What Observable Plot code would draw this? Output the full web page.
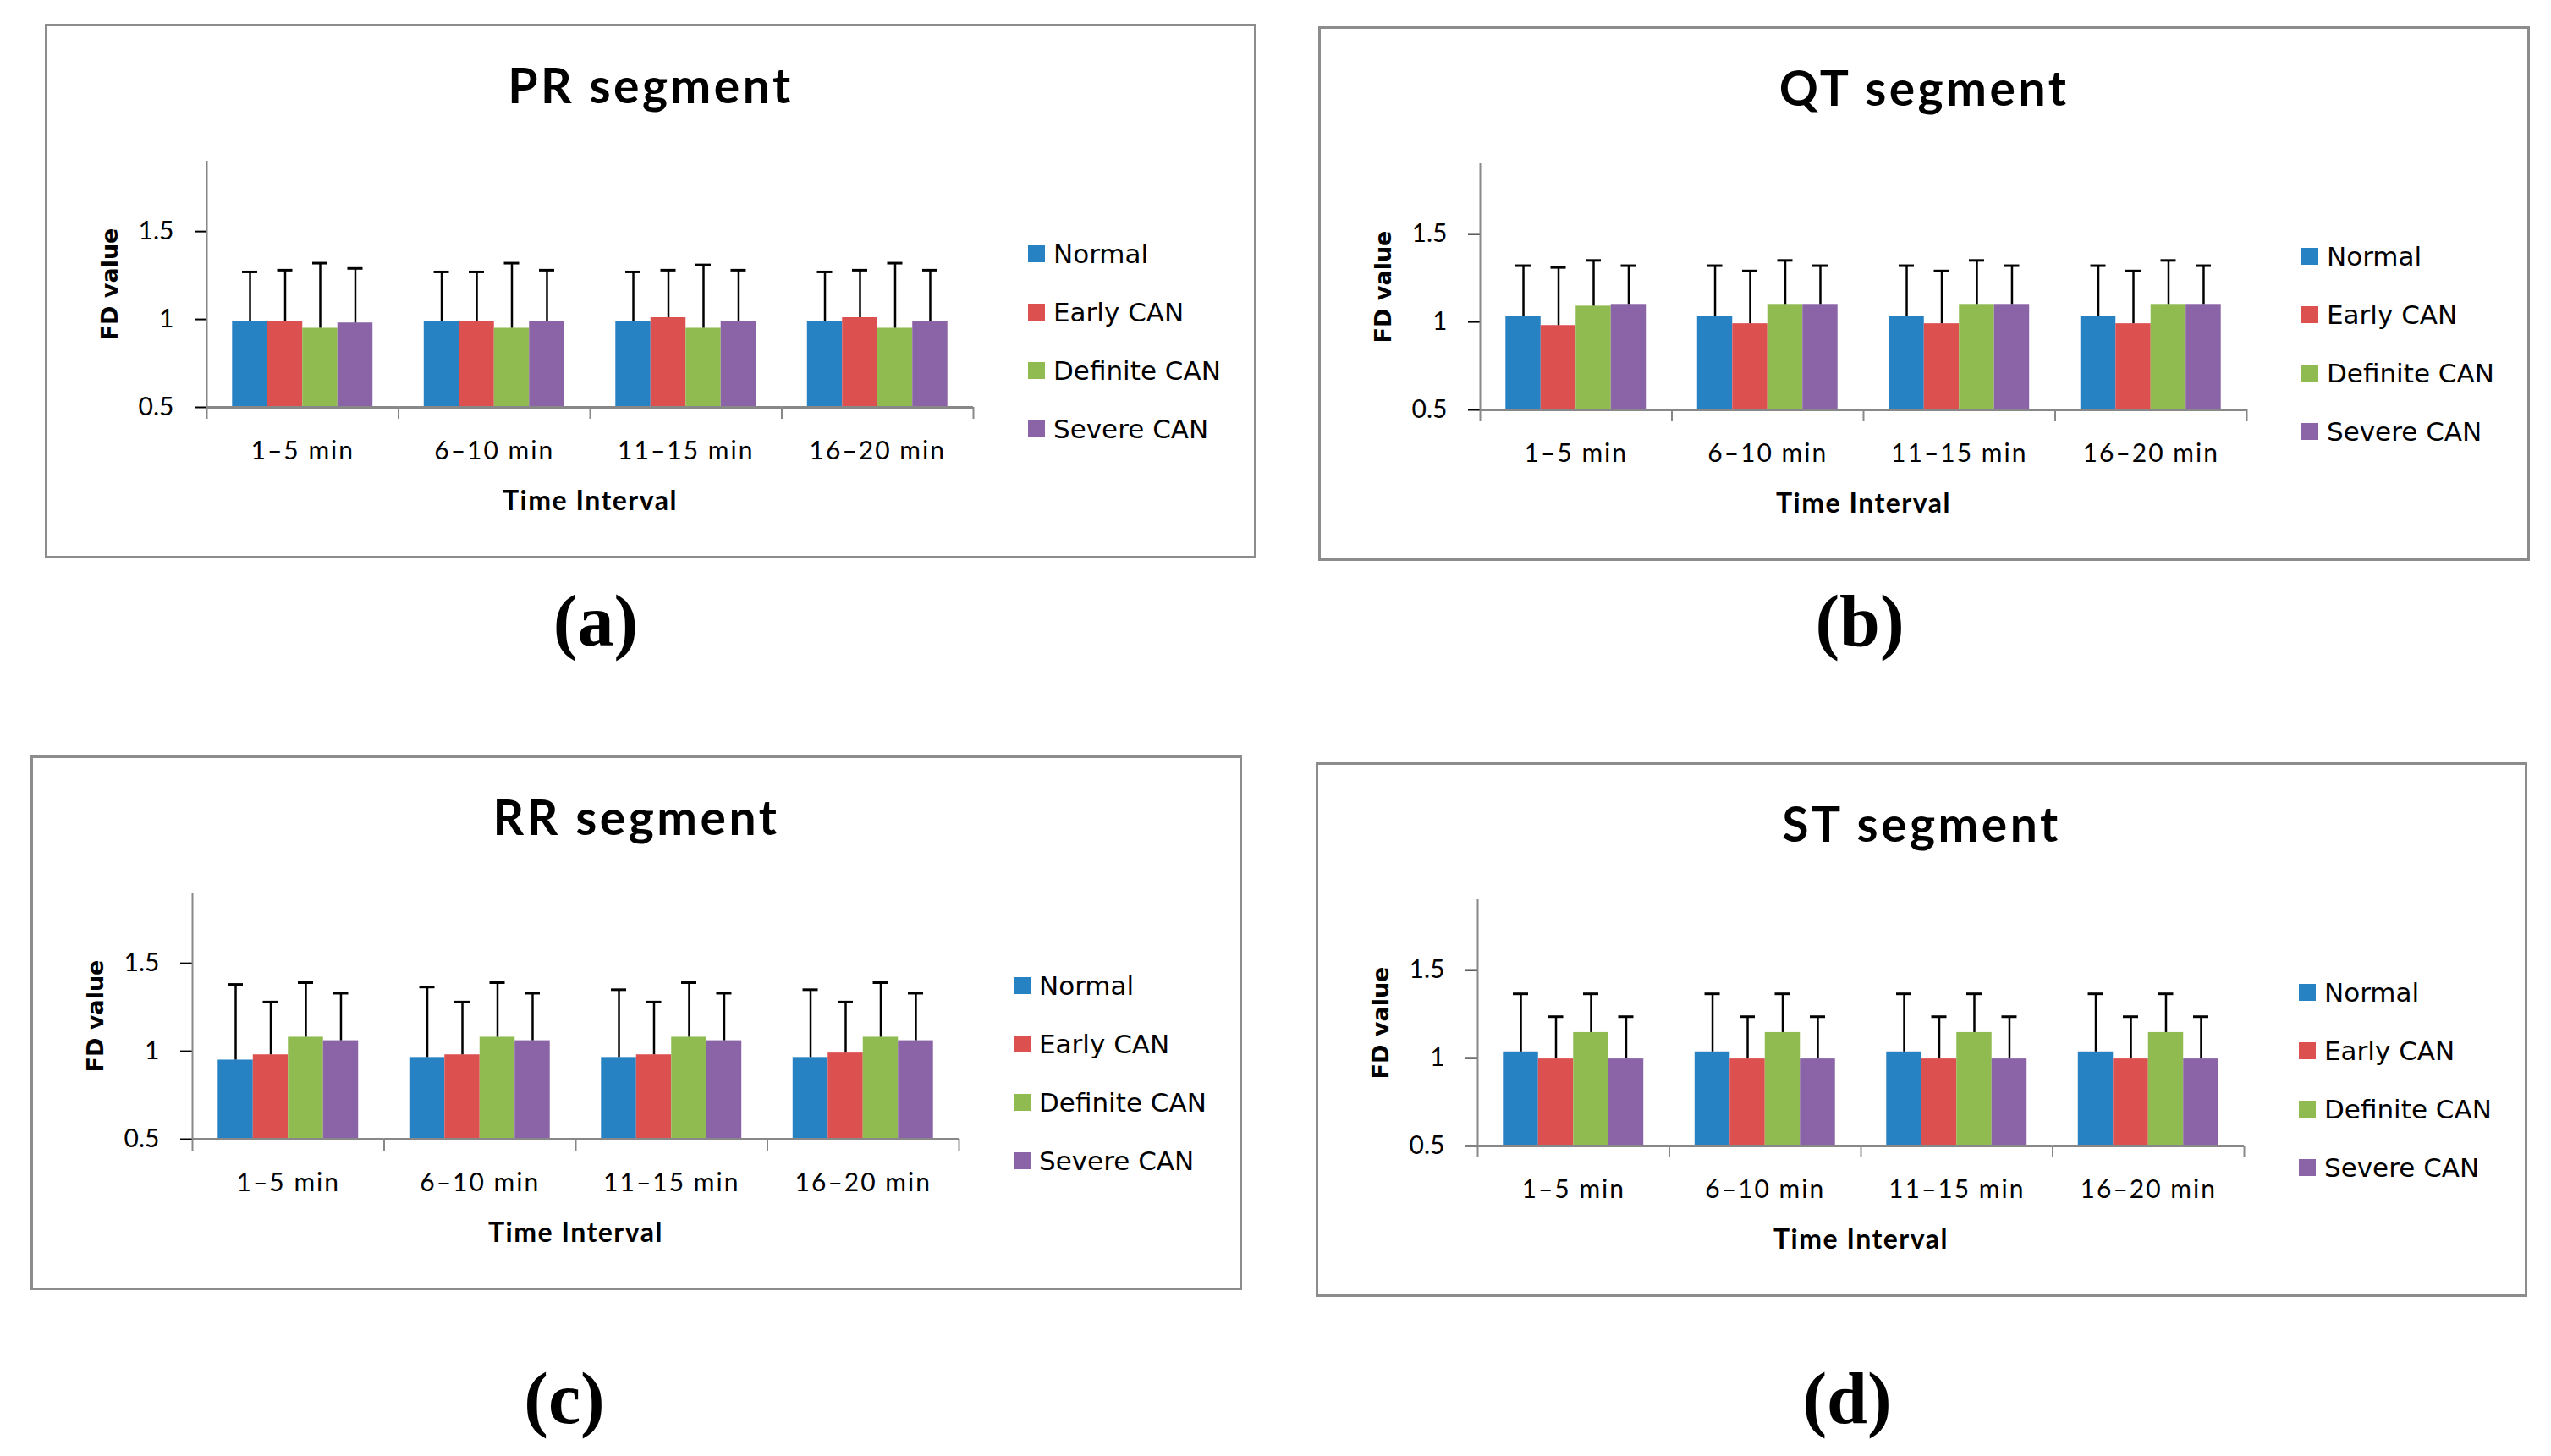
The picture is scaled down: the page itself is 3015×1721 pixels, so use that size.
<!DOCTYPE html>
<html>
<head>
<meta charset="utf-8">
<script src="https://cdn.jsdelivr.net/npm/d3@7"></script>
<script src="https://cdn.jsdelivr.net/npm/@observablehq/plot@0.6"></script>
<style>
  html, body { margin: 0; padding: 0; background: #fff; }
  #page { position: relative; width: 3015px; height: 1721px; background: #fff; overflow: hidden; }
  .panel { position: absolute; width: 1432px; height: 632px; border: 3px solid #8c8c8c; box-sizing: border-box; background: #fff; }
  .title { position: absolute; left: 0; right: 0; top: 35px; text-align: center; font-family: Lato, sans-serif; font-weight: 700; font-size: 57px; line-height: 1.2; letter-spacing: 3.5px; color: #000; }
  .chart { position: absolute; left: -3px; top: 127px; }
  .legend { position: absolute; left: 1159px; top: 0; }
  .legend .item { position: absolute; left: 0; display: flex; align-items: center; height: 40px; margin-top: -20px; white-space: nowrap; }
  .legend .sw { width: 20px; height: 20px; margin-right: 10px; }
  .legend .lab { font-family: "DejaVu Sans", sans-serif; font-size: 31px; color: #000; line-height: 40px; }
  .plabel { position: absolute; font-family: "Liberation Serif", serif; font-weight: 700; font-size: 86px; line-height: 1; transform: translate(-50%, -50%); color: #000; }
  svg [aria-label="y-axis tick"] { stroke: #888888; stroke-width: 2px; }
  svg [aria-label="y-axis label"] { font-family: "DejaVu Sans", sans-serif; font-weight: 700; font-size: 27px; letter-spacing: 0px; }
  svg [aria-label="fx-axis label"] { font-family: Lato, sans-serif; font-weight: 700; font-size: 32px; letter-spacing: 1.5px; }
  svg [aria-label="fx-axis tick label"] { letter-spacing: 2px; }
</style>
</head>
<body>
<div id="page"></div>
<script>
// ---------- data ----------
const intervals = ["1–5 min", "6–10 min", "11–15 min", "16–20 min"];
const groups = ["Normal", "Early CAN", "Definite CAN", "Severe CAN"];
const groupColors = ["#2782c4", "#dd5050", "#8fbb50", "#8a64a6"];
const yTicks = [0.5, 1, 1.5];
const yDomain = [0.5, 1.9];

const panelTitles = ["PR segment", "QT segment", "RR segment", "ST segment"];
const panelLetters = ["(a)", "(b)", "(c)", "(d)"];

// mean FD values: one row per time interval, one entry per group
const prMeans = [[0.99, 0.99, 0.95, 0.98], [0.99, 0.99, 0.95, 0.99], [0.99, 1.01, 0.95, 0.99], [0.99, 1.01, 0.95, 0.99]];
const prSD    = [[0.28, 0.29, 0.37, 0.31], [0.28, 0.28, 0.37, 0.29], [0.28, 0.27, 0.36, 0.29], [0.28, 0.27, 0.37, 0.29]];

const qtMeans = [[1.03, 0.98, 1.09, 1.10], [1.03, 0.99, 1.10, 1.10], [1.03, 0.99, 1.10, 1.10], [1.03, 0.99, 1.10, 1.10]];
const qtSD    = [[0.29, 0.33, 0.26, 0.22], [0.29, 0.30, 0.25, 0.22], [0.29, 0.30, 0.25, 0.22], [0.29, 0.30, 0.25, 0.22]];

const rrMeans = [[0.95, 0.98, 1.08, 1.06], [0.965, 0.98, 1.08, 1.06], [0.965, 0.98, 1.08, 1.06], [0.965, 0.99, 1.08, 1.06]];
const rrSD    = [[0.43, 0.30, 0.31, 0.27], [0.40, 0.30, 0.31, 0.27], [0.385, 0.30, 0.31, 0.27], [0.385, 0.29, 0.31, 0.27]];

const stMeans = [[1.035, 0.995, 1.145, 0.995], [1.035, 0.995, 1.145, 0.995], [1.035, 0.995, 1.145, 0.995], [1.035, 0.995, 1.145, 0.995]];
const stSD    = [[0.33, 0.24, 0.22, 0.24], [0.33, 0.24, 0.22, 0.24], [0.33, 0.24, 0.22, 0.24], [0.33, 0.24, 0.22, 0.24]];

// ---------- layout (styles only) ----------
const panelBoxes = [
  {left: 53, top: 28}, {left: 1558, top: 31},
  {left: 36, top: 893}, {left: 1555, top: 901}
];
const letterPos = [{x: 704, y: 734}, {x: 2198, y: 734}, {x: 667, y: 1653}, {x: 2183, y: 1653}];
const legendRows = [272, 341, 410, 479];
const axisGray = "#888888";

function drawChart(means, sds) {
  const rows = intervals.flatMap((iv, i) => groups.map((g, j) => ({interval: iv, group: g, mean: means[i][j], sd: sds[i][j]})));
  const W = 1117, H = 473, mL = 191, mR = 20, mT = 32, mB = 150;
  const po = 0.73;
  const facetW = (W - mL - mR) / intervals.length;
  const step = facetW / (groups.length + 2 * po);
  const edge = step * (0.5 + po);
  const pxPerUnit = (H - mT - mB) / (yDomain[1] - yDomain[0]);
  const tickLen = 14 / pxPerUnit;
  const capInset = (step - 18) / 2;
  const edges = intervals.map(iv => ({interval: iv}));
  return Plot.plot({
    width: W, height: H,
    marginLeft: mL, marginRight: mR, marginTop: mT, marginBottom: mB,
    style: {fontFamily: "Lato, sans-serif", fontSize: "30px", color: "#000", background: "transparent", overflow: "visible"},
    fx: {domain: intervals, padding: 0, round: false, axis: "bottom", tickSize: 0, tickPadding: 40,
         label: "Time Interval", labelAnchor: "center", labelOffset: 121},
    x: {domain: groups, paddingInner: 0, paddingOuter: po, round: false, axis: null},
    y: {domain: yDomain, ticks: yTicks, tickSize: 14, tickPadding: 25, tickFormat: d => String(d),
        label: "FD value", labelAnchor: "center", labelOffset: 125, labelArrow: "none"},
    color: {domain: groups, range: groupColors},
    marks: [
      Plot.barY(rows, {fx: "interval", x: "group", y1: () => yDomain[0], y2: "mean", fill: "group"}),
      Plot.ruleX(rows, {fx: "interval", x: "group", y1: "mean", y2: d => d.mean + d.sd, stroke: "#000", strokeWidth: 2.5}),
      Plot.tickY(rows, {fx: "interval", x: "group", y: d => d.mean + d.sd, stroke: "#000", strokeWidth: 3, insetLeft: capInset, insetRight: capInset}),
      Plot.ruleY([yDomain[0]], {stroke: axisGray, strokeWidth: 3}),
      Plot.ruleX(edges, {fx: "interval", x: () => groups[0], dx: -edge, y1: () => yDomain[0], y2: () => yDomain[0] - tickLen, stroke: axisGray, strokeWidth: 2}),
      Plot.ruleX(edges.slice(-1), {fx: "interval", x: () => groups[groups.length - 1], dx: edge, y1: () => yDomain[0], y2: () => yDomain[0] - tickLen, stroke: axisGray, strokeWidth: 2}),
      Plot.ruleX(edges.slice(0, 1), {fx: "interval", x: () => groups[0], dx: -edge, y1: () => yDomain[0], y2: () => yDomain[1], stroke: axisGray, strokeWidth: 2})
    ]
  });
}

const page = document.getElementById("page");
const allMeans = [prMeans, qtMeans, rrMeans, stMeans];
const allSD = [prSD, qtSD, rrSD, stSD];

panelTitles.forEach((t, k) => {
  const box = document.createElement("div");
  box.className = "panel";
  box.style.left = panelBoxes[k].left + "px";
  box.style.top = panelBoxes[k].top + "px";
  const title = document.createElement("div");
  title.className = "title";
  title.textContent = t;
  box.appendChild(title);
  const holder = document.createElement("div");
  holder.className = "chart";
  holder.appendChild(drawChart(allMeans[k], allSD[k]));
  box.appendChild(holder);
  const legend = document.createElement("div");
  legend.className = "legend";
  groups.forEach((g, j) => {
    const item = document.createElement("div");
    item.className = "item";
    item.style.top = (legendRows[j] - 3) + "px";
    const sw = document.createElement("div");
    sw.className = "sw";
    sw.style.background = groupColors[j];
    const lab = document.createElement("span");
    lab.className = "lab";
    lab.textContent = g;
    item.appendChild(sw);
    item.appendChild(lab);
    legend.appendChild(item);
  });
  box.appendChild(legend);
  page.appendChild(box);

  const letter = document.createElement("div");
  letter.className = "plabel";
  letter.style.left = letterPos[k].x + "px";
  letter.style.top = letterPos[k].y + "px";
  letter.textContent = panelLetters[k];
  page.appendChild(letter);
});
</script>
</body>
</html>
